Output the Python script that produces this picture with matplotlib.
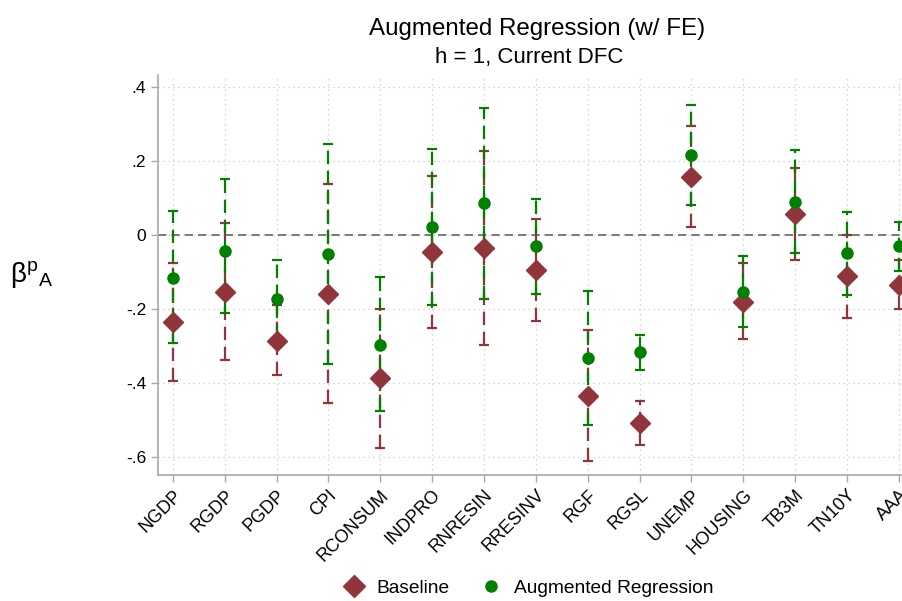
import numpy as np
import matplotlib
matplotlib.use("Agg")
from matplotlib import pyplot as plt
from matplotlib.lines import Line2D

plt.rcParams['font.family'] = ['Liberation Sans', 'DejaVu Sans']

variables = ['NGDP', 'RGDP', 'PGDP', 'CPI', 'RCONSUM', 'INDPRO', 'RNRESIN',
             'RRESINV', 'RGF', 'RGSL', 'UNEMP', 'HOUSING', 'TB3M', 'TN10Y', 'AAA']

# Baseline estimates and CI bounds
base_est = [-0.235, -0.154, -0.286, -0.159, -0.387, -0.046, -0.036,
            -0.095, -0.434, -0.506, 0.157, -0.182, 0.057, -0.112, -0.136]
base_lo = [-0.393, -0.338, -0.379, -0.454, -0.575, -0.250, -0.296,
           -0.232, -0.611, -0.566, 0.022, -0.281, -0.068, -0.225, -0.200]
base_hi = [-0.075, 0.031, -0.189, 0.137, -0.200, 0.158, 0.225,
           0.043, -0.257, -0.447, 0.294, -0.075, 0.180, 0.001, -0.067]

# Augmented regression estimates and CI bounds
aug_est = [-0.115, -0.043, -0.174, -0.052, -0.296, 0.022, 0.085,
           -0.031, -0.332, -0.317, 0.215, -0.153, 0.090, -0.049, -0.031]
aug_lo = [-0.292, -0.211, -0.277, -0.349, -0.476, -0.189, -0.173,
          -0.159, -0.514, -0.364, 0.081, -0.248, -0.048, -0.163, -0.096]
aug_hi = [0.065, 0.152, -0.068, 0.245, -0.114, 0.231, 0.342,
          0.098, -0.151, -0.271, 0.350, -0.057, 0.228, 0.062, 0.034]

red = '#8f353b'
green = '#008000'

fig = plt.figure(figsize=(9.02, 6.01), dpi=100)
ax = fig.add_axes([0.175, 0.21, 0.825, 0.665])

x = np.arange(1, len(variables) + 1)


def draw_ci(ax, x, est, lo, hi, color, marker, ms):
    est = np.array(est)
    err = [est - np.array(lo), np.array(hi) - est]
    _, caps, bars = ax.errorbar(x, est, yerr=err, fmt='none', ecolor=color,
                                elinewidth=1.6, capsize=3.5, capthick=1.6, zorder=3)
    for b in bars:
        b.set_linestyle((0, (6, 3)))
    ax.plot(x, est, linestyle='none', marker=marker, color=color,
            markersize=ms, zorder=4)


draw_ci(ax, x, base_est, base_lo, base_hi, red, 'D', 10)
draw_ci(ax, x, aug_est, aug_lo, aug_hi, green, 'o', 8)

ax.axhline(0, color='#666666', linestyle=(0, (5, 3)), linewidth=1.2, zorder=2)

ax.set_xlim(0.71, 15.06)
ax.set_ylim(-0.647, 0.431)
yt = [0.4, 0.2, 0, -0.2, -0.4, -0.6]
ax.set_yticks(yt)
ax.set_yticklabels(['.4', '.2', '0', '-.2', '-.4', '-.6'], fontsize=12.5)
ax.set_xticks(x)
ax.set_xticklabels(variables, rotation=45, ha='right', rotation_mode='anchor',
                   fontsize=13)

ax.grid(True, linestyle=(0, (1, 3)), color='#c8c8c8', linewidth=0.9)
for s in ['top', 'right']:
    ax.spines[s].set_visible(False)
for s in ['left', 'bottom']:
    ax.spines[s].set_color('#a8a8a8')
    ax.spines[s].set_linewidth(1.2)
ax.tick_params(axis='both', color='#a8a8a8', length=5, width=1.0)

ax.set_ylabel(r'$\mathregular{\beta^{p}}_{\mathregular{A}}$', rotation=0,
              fontsize=20, labelpad=68, va='center')

fig.text(537 / 902, 1 - 29 / 601, 'Augmented Regression (w/ FE)', ha='center',
         va='center', fontsize=17.4)
fig.text(529 / 902, 1 - 57 / 601, 'h = 1, Current DFC', ha='center',
         va='center', fontsize=16)

handles = [Line2D([], [], linestyle='none', marker='D', color=red, markersize=11),
           Line2D([], [], linestyle='none', marker='o', color=green, markersize=8)]
fig.legend(handles, ['Baseline', 'Augmented Regression'], loc='center',
           bbox_to_anchor=(524 / 902, 1 - 588 / 601), ncol=2, frameon=False,
           fontsize=13.8, handletextpad=0.2, columnspacing=1.15)

fig.savefig('out.png', dpi=100)
